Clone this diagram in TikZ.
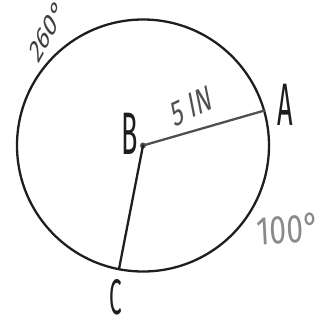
\documentclass[tikz,border=0pt]{standalone}
\usepackage{fontspec}
\newfontfamily\hand{Fira Sans}
\definecolor{ink}{HTML}{1E1E1E}
\definecolor{radgray}{HTML}{505050}
\definecolor{pencil}{HTML}{8A8A8A}
\begin{document}
\begin{tikzpicture}[x=1pt,y=-1pt,line cap=round,
  lbl/.style={font=\hand, inner sep=0pt, text=ink, text depth=0pt},
  rim/.style={draw=ink, line width=2.3pt},
  radius line/.style={line width=2.3pt}]
\useasboundingbox (0,0) rectangle (330,322);
\node[circle, fill=radgray, inner sep=0pt, minimum size=6pt] (B) at (143,145.5) {};
\draw[rim] (143,145.5) circle (126pt);
\coordinate (A) at (264.5,110.5);
\coordinate (C) at (119,269);
\draw[radius line, draw=radgray] (B.center) -- (A);
\draw[radius line, draw=ink] (B.center) -- (C);
\node[lbl, font={\hand\fontsize{60}{60}\selectfont}, xscale=0.45] (lB) at (130,133.5) {B};
\node[lbl, font={\hand\fontsize{60}{60}\selectfont}, xscale=0.45] (lA) at (285,105) {A};
\node[lbl, font={\hand\fontsize{50}{50}\selectfont}, xscale=0.45] (lC) at (116,297) {C};
\node[lbl, text=radgray, font={\hand\fontsize{36}{36}\selectfont}, xscale=0.65, rotate=17] (l5) at (192,106) {5 IN};
\node[lbl, text=ink!85, font={\hand\fontsize{33}{33}\selectfont}, xscale=0.6, rotate=48] (l260) at (47,31) {260°};
\node[lbl, text=pencil, font={\hand\fontsize{40}{40}\selectfont}, xscale=0.75, rotate=4] (l100) at (288,229) {100°};
\end{tikzpicture}
\end{document}
